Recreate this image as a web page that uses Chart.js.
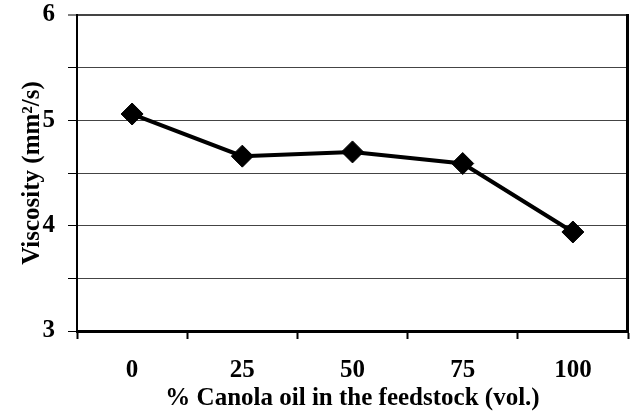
<!DOCTYPE html>
<html>
<head>
<meta charset="utf-8">
<script src="https://cdn.jsdelivr.net/npm/chart.js@4"></script>
<style>
  html, body { margin: 0; padding: 0; background: #fff; }
  #wrap { width: 630px; height: 412px; }
</style>
</head>
<body>
<div id="wrap"><canvas id="chart" width="630" height="412"></canvas></div>
<script>
let categories = ["0", "25", "50", "75", "100"],
    viscosity = [5.06, 4.66, 4.70, 4.59, 3.94],
    yTicks = [3, 4, 5, 6],
    xTitle = "% Canola oil in the feedstock (vol.)",
    yTitle = "Viscosity (mm\u00B2/s)"

// right edge of the plot frame
let frame = {
    id: "frame",
    afterDraw(chart) {
        let {ctx, chartArea: a} = chart
        ctx.save()
        ctx.strokeStyle = "#000"
        ctx.lineWidth = 3
        ctx.beginPath()
        ctx.moveTo(a.right - 0.5, a.top - 1)
        ctx.lineTo(a.right - 0.5, a.bottom + 1)
        ctx.stroke()
        ctx.restore()
    }
}

// no extra room for overhanging labels, the plot box is fixed by layout padding
let noPad = s => { s.paddingLeft = 0; s.paddingRight = 0; s.paddingTop = 0; s.paddingBottom = 0 }

let font = {family: "'Liberation Serif', 'Times New Roman', serif", weight: "bold"}

new Chart(document.querySelector("#chart"), {
    type: "line",
    plugins: [frame],
    data: {
        labels: categories,
        datasets: [{
            data: viscosity,
            borderColor: "#000",
            backgroundColor: "#000",
            borderWidth: 4,
            tension: 0,
            pointStyle: "rectRot",
            pointRadius: 11,
            pointBorderWidth: 1
        }]
    },
    options: {
        responsive: false,
        animation: false,
        layout: {autoPadding: false, padding: {top: 15, right: 2, left: 0, bottom: 0}},
        plugins: {legend: {display: false}, tooltip: {enabled: false}},
        scales: {
            x: {
                offset: true,
                grid: {offset: true, drawOnChartArea: false, drawTicks: true, tickLength: 8, tickColor: "#000", tickWidth: 2},
                border: {color: "#000", width: 3},
                ticks: {color: "#000", padding: 17, font: {...font, size: 25}},
                title: {display: true, text: xTitle, color: "#000", padding: {top: 0, bottom: -2}, font: {...font, size: 25}},
                afterFit: s => { s.height = 81; noPad(s) }
            },
            y: {
                min: 3,
                max: 6,
                ticks: {
                    stepSize: 0.5,
                    color: "#000",
                    padding: 13,
                    font: {...font, size: 25},
                    callback: v => yTicks.includes(v) ? v : ""
                },
                grid: {
                    color: "#444",
                    lineWidth: c => c.tick && c.tick.value === 6 ? 2 : 1,
                    tickColor: "#000",
                    tickLength: 9,
                    tickWidth: 1
                },
                border: {color: "#000", width: 2},
                title: {display: true, text: yTitle, color: "#000", padding: {top: 18, bottom: 0}, font: {...font, size: 25}},
                afterFit: s => { s.width = 77; noPad(s) }
            }
        }
    }
})
</script>
</body>
</html>
